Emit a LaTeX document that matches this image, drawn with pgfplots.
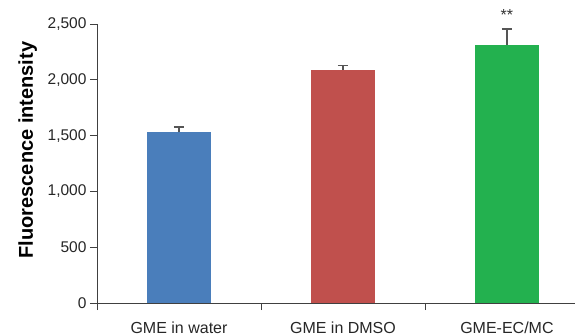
\documentclass[border=0pt]{standalone}
\usepackage{fontspec}
\setmainfont{Liberation Sans}
\usepackage{pgfplots}
\pgfplotsset{compat=1.18}
\definecolor{cblue}{HTML}{4A7EBB}
\definecolor{cred}{HTML}{C0504D}
\definecolor{cgreen}{HTML}{23B14F}
\definecolor{axgray}{HTML}{404040}
\definecolor{errgray}{HTML}{555555}
\begin{document}
\begin{tikzpicture}
\begin{axis}[
  scale only axis, width=478bp, height=279bp,
  xmin=-0.5, xmax=2.415, ymin=0, ymax=2500,
  axis lines*=left,
  clip=false,
  ytick={0,500,1000,1500,2000,2500},
  xtick={-0.5,0.5,1.5}, xticklabels={},
  extra x ticks={0,1,2},
  extra x tick labels={GME in water, GME in DMSO, GME-EC/MC},
  extra x tick style={major tick length=0pt, xticklabel style={yshift=-15bp, font=\fontsize{16bp}{19bp}\selectfont}},
  tick align=outside, major tick length=7bp,
  tick style={axgray, line width=0.8bp},
  axis line style={axgray, line width=0.8bp},
  ylabel={Fluorescence intensity},
  ylabel style={font=\fontsize{20bp}{23bp}\selectfont\bfseries, at={(axis description cs:-0.145,0.548)}, anchor=center},
  ticklabel style={font=\fontsize{15.5bp}{18bp}\selectfont, color=black!85},
  /pgf/number format/1000 sep={,},
  /pgf/number format/assume math mode=true,
]
\addplot[ybar, bar width=64bp, bar shift=0pt, fill=cblue, draw=none,
  error bars/.cd, y dir=plus, y explicit,
  error bar style={errgray, line width=1.5bp},
  error mark options={rotate=90, errgray, line width=1.5bp, mark size=5bp}]
  coordinates {(0,1530) +- (0,47)};
\addplot[ybar, bar width=64bp, bar shift=0pt, fill=cred, draw=none,
  error bars/.cd, y dir=plus, y explicit,
  error bar style={errgray, line width=1.5bp},
  error mark options={rotate=90, errgray, line width=1.5bp, mark size=5bp}]
  coordinates {(1,2088) +- (0,38)};
\addplot[ybar, bar width=64bp, bar shift=0pt, fill=cgreen, draw=none,
  error bars/.cd, y dir=plus, y explicit,
  error bar style={errgray, line width=1.5bp},
  error mark options={rotate=90, errgray, line width=1.5bp, mark size=5bp}]
  coordinates {(2,2312) +- (0,143)};
\node[font=\fontsize{16bp}{18bp}\selectfont, color=black!80] at (axis cs:2,2580) {**};
\coordinate (sw) at (rel axis cs:0,0);
\coordinate (ne) at (rel axis cs:1,1);
\end{axis}
\pgfresetboundingbox
\path ([shift={(-97bp,-32bp)}]sw) rectangle ([shift={(0bp,24bp)}]ne);
\end{tikzpicture}
\end{document}
